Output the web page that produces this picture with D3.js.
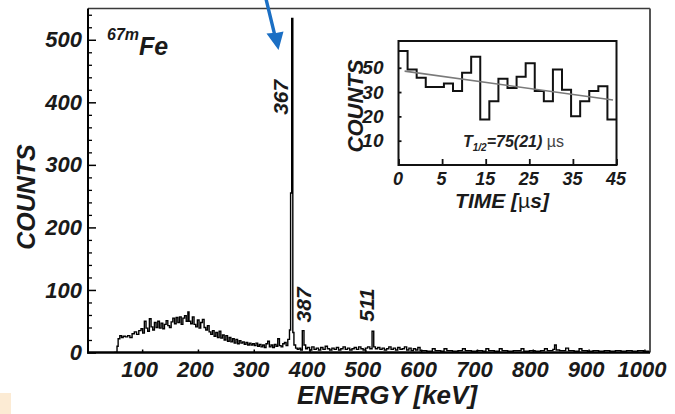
<!DOCTYPE html>
<html><head><meta charset="utf-8">
<script src="https://cdn.jsdelivr.net/npm/d3@7"></script>
<style>
body{margin:0;background:#fff}
svg{display:block;font-family:"Liberation Sans",Arial,Helvetica,sans-serif}
</style>
</head><body>
<svg id="chart" width="675" height="414"></svg>
<script>
// ---------- main spectrum data (bin start energy keV, counts) ----------
const energyKeV = [
 50,55,57,60,63,66,70,74,78,82,
 86,90,94,98,101,104,107,110,113,116,
 119,122,125,128,131,134,137,140,143,146,
 149,152,155,158,161,164,167,170,173,176,
 179,182,184,187,190,193,196,199,202,205,
 208,211,214,217,220,223,226,229,232,235,
 238,241,244,247,250,253,256,259,262,265,
 268,271,274,277,280,283,286,289,292,295,
 298,301,304,307,310,313,316,319,322,325,
 328,331,334,337,340,343,346,349,352,355,
 358,361,364,366,368,370,372,375,378,381,
 384,387,390,393,396,400,404,408,412,416,
 420,424,428,432,436,440,444,448,452,456,
 460,464,468,472,476,480,484,488,492,496,
 500,504,508,512,515,518,522,526,530,534,
 538,542,546,550,554,558,562,566,570,574,
 578,582,586,590,594,598,610,620,625,635,
 641,646,656,666,674,679,690,700,710,716,
 721,731,740,745,755,765,779,784,794,804,
 814,821,826,836,839,842,848,859,864,874,
 883,888,898,908,918,928,938,948,958,968,
 978,988,998,1010
];
const counts = [
 0,10,22,27,24,26,25,27,24,30,
 33,29,35,38,31,50,39,34,54,41,
 36,48,40,50,39,47,38,45,51,43,
 40,49,55,46,56,48,57,45,55,59,
 50,65,50,46,57,45,41,52,39,48,
 53,40,36,43,33,29,35,26,32,24,
 34,23,28,20,27,18,24,17,22,15,
 21,14,19,15,17,13,16,12,15,12,
 14,11,15,10,13,9,12,8,14,18,
 9,12,8,13,10,22,11,9,14,16,
 11,21,36,255,534,32,12,7,5,7,
 4,35,12,6,8,4,9,5,7,4,
 8,5,10,6,4,7,5,8,4,6,
 9,5,7,4,6,8,5,9,6,4,
 7,9,6,34,9,6,8,5,7,4,
 6,9,5,7,4,8,5,6,9,4,
 7,3,6,4,8,3,2,6,3,2,
 6,3,2,3,6,3,2,3,2,6,
 3,2,6,3,2,3,6,2,3,2,
 3,6,3,5,12,4,3,7,3,2,
 6,3,2,3,2,3,2,3,2,3,
 2,3,2,2
];
const xTicks = [100,200,300,400,500,600,700,800,900,1000];
const yMajorTicks = [0,100,200,300,400,500];
const yMinorTicks = [20,40,60,80,120,140,160,180,220,240,260,280,320,340,360,380,420,440,460,480,520,540];
const peakNames = ["367","387","511"];

// ---------- inset (decay curve) data ----------
const insetCounts = [46.9,39.3,35.9,32.1,32.1,33.5,30.4,37.9,44.5,18.7,26.2,35.5,31.7,36.3,41.8,30.4,26.2,39.3,31.0,20.0,26.2,30.4,32.4,18.7];
const insetXTickPos = [0,10,20,30,40,50];
const insetXTickLabels = ["0","5","15","25","35","45"];
const insetYTickPos = [10,20,30,40];
const insetYTickLabels = ["10","20","30","50"];
const fitTime = [1.4,49.2];
const fitCounts = [38.6,26.7];

// ---------- drawing ----------
const svg = d3.select("#chart");
const FONT = '"Liberation Sans",Arial,Helvetica,sans-serif';

svg.append("rect").attr("x",0).attr("y",393).attr("width",11).attr("height",21).attr("fill","#fcebd4");

const L=88, R=650, T=8.5, B=352.5;
const x = d3.scaleLinear().domain([3,1010]).range([L,R]);
const y = d3.scaleLinear().domain([0,550]).range([B,T]);

svg.append("clipPath").attr("id","plotclip").append("rect")
  .attr("x",L).attr("y",T).attr("width",R-L).attr("height",B-T);

const spec = energyKeV.map((e,i)=>({e, c:counts[i]}));
const line = d3.line().x(d=>x(d.e)).y(d=>y(d.c)).curve(d3.curveStepAfter);
svg.append("path").datum(spec).attr("d",line)
  .attr("clip-path","url(#plotclip)")
  .attr("fill","none").attr("stroke","#000").attr("stroke-width",1.4);

const xAxis = d3.axisBottom(x).tickValues(xTicks).tickSizeInner(-3).tickSizeOuter(0).tickPadding(8.5)
  .tickFormat(d3.format("d"));
const gx = svg.append("g").attr("transform",`translate(0,${B})`).call(xAxis);
gx.select(".domain").remove();
gx.selectAll("line").attr("stroke","#000").attr("stroke-width",1.5);
gx.selectAll("text").attr("font-family",FONT).attr("font-size",22).attr("font-weight","bold")
  .attr("font-style","italic").attr("fill","#1a1a1a").attr("dx",-3);

const yAxis = d3.axisLeft(y).tickValues(yMajorTicks).tickSizeInner(-8).tickSizeOuter(0).tickPadding(6);
const gy = svg.append("g").attr("transform",`translate(${L},0)`).call(yAxis);
gy.select(".domain").remove();
gy.selectAll("line").attr("stroke","#000").attr("stroke-width",1.5);
gy.selectAll("text").attr("font-family",FONT).attr("font-size",22).attr("font-weight","bold")
  .attr("font-style","italic").attr("fill","#1a1a1a");

const yMinor = d3.axisLeft(y).tickValues(yMinorTicks).tickSizeInner(-4).tickSizeOuter(0).tickFormat("");
const gym = svg.append("g").attr("transform",`translate(${L},0)`).call(yMinor);
gym.select(".domain").remove();
gym.selectAll("line").attr("stroke","#000").attr("stroke-width",1.3);

svg.append("line").attr("x1",L).attr("x2",R).attr("y1",T).attr("y2",T).attr("stroke","#3a3a3a").attr("stroke-width",1.6);
svg.append("line").attr("x1",R).attr("x2",R).attr("y1",T).attr("y2",B).attr("stroke","#555").attr("stroke-width",2);
svg.append("line").attr("x1",L).attr("x2",L).attr("y1",T).attr("y2",B+1).attr("stroke","#000").attr("stroke-width",2);
svg.append("line").attr("x1",L-1).attr("x2",R).attr("y1",B).attr("y2",B).attr("stroke","#000").attr("stroke-width",2.4);

svg.append("text").attr("x",387).attr("y",404).attr("text-anchor","middle")
  .attr("font-family",FONT).attr("font-size",26).attr("font-weight","bold").attr("font-style","italic")
  .attr("fill","#1a1a1a").text("ENERGY [keV]");
svg.append("text").attr("transform","translate(35,197) rotate(-90)").attr("text-anchor","middle")
  .attr("font-family",FONT).attr("font-size",25).attr("font-weight","bold").attr("font-style","italic")
  .attr("fill","#1a1a1a").text("COUNTS");

const iso = svg.append("text").attr("x",107).attr("y",55)
  .attr("font-family",FONT).attr("font-weight","bold").attr("font-style","italic").attr("fill","#1a1a1a");
iso.append("tspan").attr("font-size",16).attr("dy",-15).text("67m");
iso.append("tspan").attr("font-size",25).attr("dy",15).text("Fe");

const peakAnchor = [{e:362,c:408},{e:402,c:76},{e:515,c:76}];
peakNames.forEach((t,i)=>{
  svg.append("text")
    .attr("transform",`translate(${x(peakAnchor[i].e)},${y(peakAnchor[i].c)}) rotate(-90)`)
    .attr("text-anchor","middle")
    .attr("font-family",FONT).attr("font-size",21).attr("font-weight","bold").attr("font-style","italic")
    .attr("fill","#1a1a1a").text(t);
});

svg.append("path").attr("d","M264.5,0 L268,0 L276,33 L283.5,31.5 L278.5,50 L266.5,33.5 L272.5,33 Z")
  .attr("fill","#1b6fc4");

// ---------- inset ----------
const iL=398.5, iR=616.5, iT=41, iB=165;
const ix = d3.scaleLinear().domain([0,50]).range([iL,iR]);
const iy = d3.scaleLinear().domain([0,51]).range([iB,iT]);

svg.append("rect").attr("x",iL).attr("y",iT).attr("width",iR-iL).attr("height",iB-iT)
  .attr("fill","#fff").attr("stroke","none");

const binW = 50/insetCounts.length;
const hist = insetCounts.map((c,i)=>({t:i*binW, c}));
hist.push({t:50, c:insetCounts[insetCounts.length-1]});
svg.append("path").datum(hist)
  .attr("d", d3.line().x(d=>ix(d.t)).y(d=>iy(d.c)).curve(d3.curveStepAfter))
  .attr("fill","none").attr("stroke","#111").attr("stroke-width",2);

svg.append("path").datum(fitTime.map((t,i)=>({t, c:fitCounts[i]})))
  .attr("d", d3.line().x(d=>ix(d.t)).y(d=>iy(d.c)))
  .attr("fill","none").attr("stroke","#7a7a7a").attr("stroke-width",1.6);

const ixAxis = d3.axisBottom(ix).tickValues(insetXTickPos).tickSizeInner(-6).tickSizeOuter(0).tickPadding(7)
  .tickFormat((d,i)=>insetXTickLabels[i]);
const gix = svg.append("g").attr("transform",`translate(0,${iB})`).call(ixAxis);
gix.select(".domain").remove();
gix.selectAll("line").attr("stroke","#111").attr("stroke-width",1.8);
gix.selectAll("text").attr("font-family",FONT).attr("font-size",18).attr("font-weight","bold")
  .attr("font-style","italic").attr("fill","#1a1a1a").attr("dx",-1);

const iyAxis = d3.axisLeft(iy).tickValues(insetYTickPos).tickSizeInner(-3).tickSizeOuter(0).tickPadding(15)
  .tickFormat((d,i)=>insetYTickLabels[i]);
const giy = svg.append("g").attr("transform",`translate(${iL},0)`).call(iyAxis);
giy.select(".domain").remove();
giy.selectAll("line").attr("stroke","#111").attr("stroke-width",1.8);
giy.selectAll("text").attr("font-family",FONT).attr("font-size",19).attr("font-weight","bold")
  .attr("font-style","italic").attr("fill","#1a1a1a");

svg.append("rect").attr("x",iL).attr("y",iT).attr("width",iR-iL).attr("height",iB-iT)
  .attr("fill","none").attr("stroke","#111").attr("stroke-width",2);

svg.append("text").attr("x",502).attr("y",208).attr("text-anchor","middle")
  .attr("font-family",FONT).attr("font-size",21).attr("font-weight","bold").attr("font-style","italic")
  .attr("fill","#1a1a1a")
  .call(t=>{t.append("tspan").text("TIME [");
            t.append("tspan").attr("font-style","normal").attr("font-weight","normal").text("µ");
            t.append("tspan").text("s]");});
svg.append("text").attr("transform","translate(363,106) rotate(-90)").attr("text-anchor","middle")
  .attr("font-family",FONT).attr("font-size",22).attr("font-weight","bold").attr("font-style","italic")
  .attr("fill","#1a1a1a").text("COUNTS");

const th = svg.append("text").attr("x",463).attr("y",147)
  .attr("font-family",FONT).attr("font-size",16).attr("font-weight","bold").attr("font-style","italic")
  .attr("fill","#222");
th.append("tspan").text("T");
th.append("tspan").attr("font-size",10).attr("dy",4).text("1/2");
th.append("tspan").attr("dy",-4).text("=75(21) ");
th.append("tspan").attr("font-style","normal").attr("font-weight","normal").attr("fill","#444").text("µs");
</script>
</body></html>
